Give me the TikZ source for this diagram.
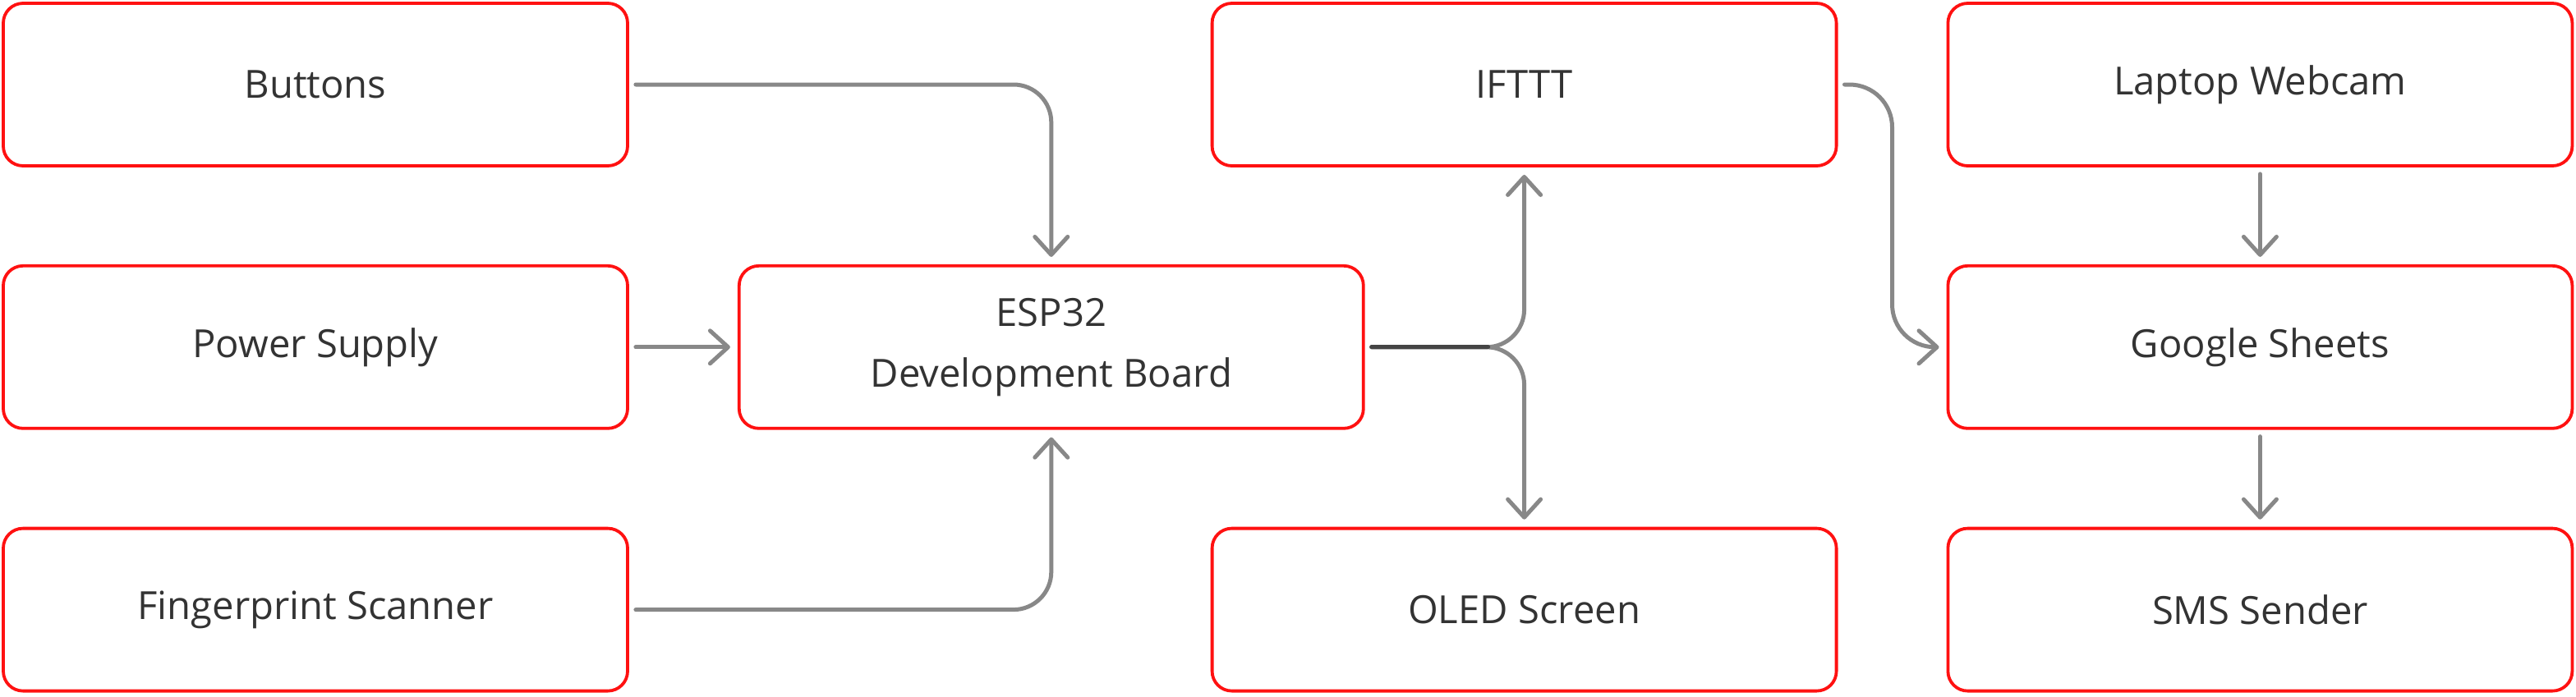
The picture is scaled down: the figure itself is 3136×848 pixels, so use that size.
\documentclass[tikz,border=0pt]{standalone}
\usepackage{fontspec}
\setmainfont{Open Sans}
\usetikzlibrary{calc, positioning, arrows.meta}
\definecolor{boxred}{HTML}{FF1111}
\definecolor{linegray}{HTML}{888888}
\definecolor{linedark}{HTML}{444444}
\definecolor{textgray}{HTML}{333333}

\begin{document}
\begin{tikzpicture}[x=0.25pt, y=-0.25pt, >={Straight Barb[length=5.5pt, width=10pt, round]}, node distance=29.5pt and 33pt, every node/.style={font=\fontsize{11.8}{18.5}\selectfont, text=textgray}]
  \tikzset{block/.style={draw=boxred, line width=0.95pt, rounded corners=6pt, minimum width=190pt, minimum height=49.5pt, align=center},
    conn/.style={->, draw=linegray, line width=1.25pt, line cap=round, rounded corners=11.5pt, shorten <=2pt, shorten >=2.25pt},
    trunk/.style={draw=linedark, line width=1.25pt, line cap=round}}
  \useasboundingbox (0,0) rectangle (3136,848);

  % inputs on the left
  \node[block] (buttons) at (384,103) {Buttons};
  \node[block, below=of buttons] (power) {Power Supply};
  \node[block, below=of power] (finger) {Fingerprint Scanner};
  \node[block, right=of power] (esp) {ESP32\\Development Board};

  % outputs of the board
  \node[block, above right=29.5pt and -47pt of esp] (ifttt) {IFTTT};
  \node[block, below right=29.5pt and -47pt of esp] (oled) {OLED Screen};

  % cloud side
  \node[block, right=of ifttt] (webcam) {Laptop Webcam};
  \node[block, below=of webcam] (sheets) {Google Sheets};
  \node[block, below=of sheets] (sms) {SMS Sender};

  \coordinate (fork) at ($(esp.east -| ifttt.south)+(-11pt,0)$);
  \coordinate (bend) at ($(ifttt.east)!0.5!(sheets.west)$);

  \draw[conn] (buttons) -| (esp);
  \draw[conn] (power) -- (esp);
  \draw[conn] (finger) -| (esp);
  \draw[conn] (esp) -| (ifttt);
  \draw[conn] (esp) -| (oled);
  \draw[trunk, shorten <=2pt] (esp.east) -- (fork);
  \draw[conn, rounded corners=13pt] (ifttt) -| (bend) |- (sheets);
  \draw[conn] (webcam) -- (sheets);
  \draw[conn] (sheets) -- (sms);
\end{tikzpicture}
\end{document}
